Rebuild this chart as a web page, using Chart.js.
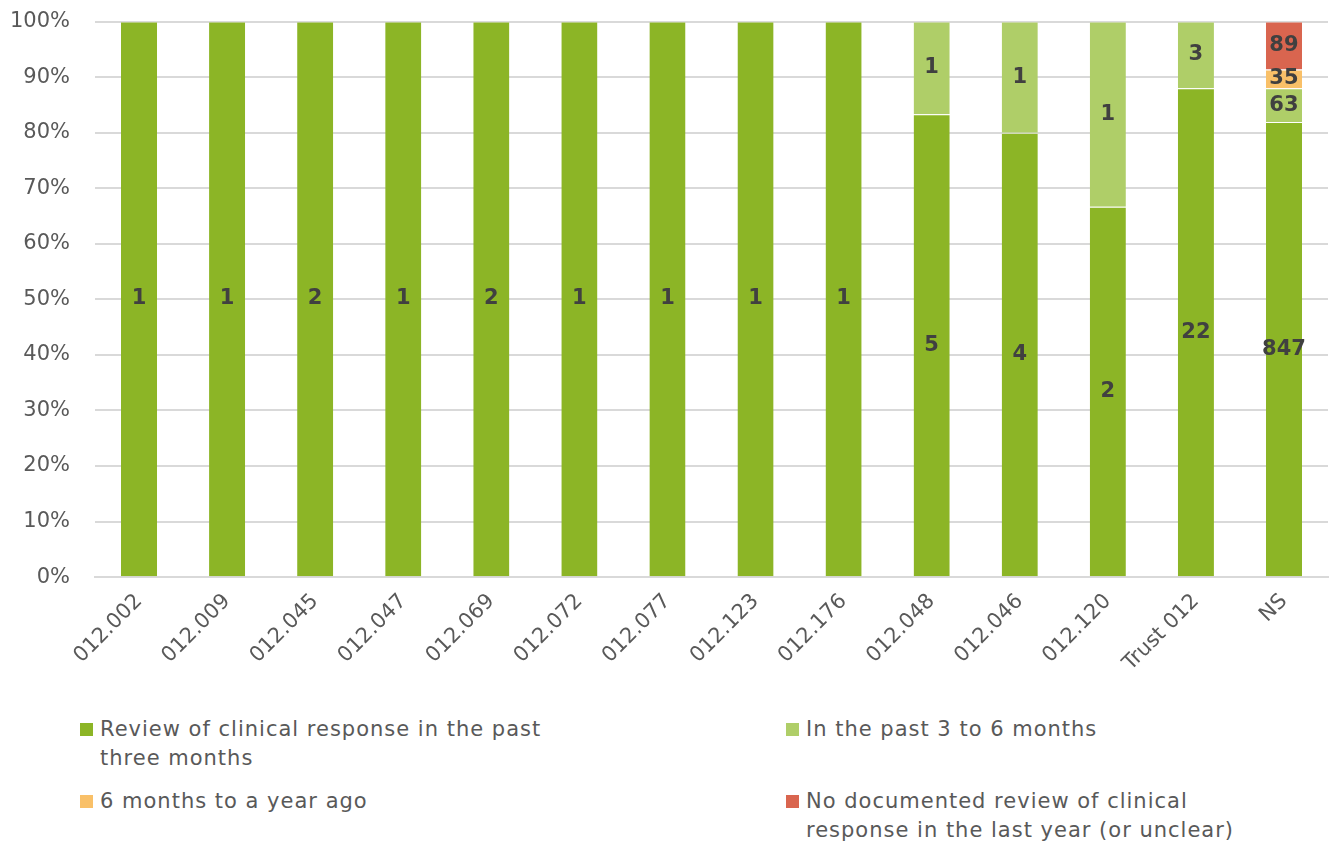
<!DOCTYPE html>
<html>
<head>
<meta charset="utf-8">
<script src="https://cdn.jsdelivr.net/npm/chart.js@4/dist/chart.umd.min.js"></script>
<style>
  html, body { margin: 0; padding: 0; background: #fff; }
  body { position: relative; width: 1335px; height: 847px; overflow: hidden; font-family: 'DejaVu Sans', sans-serif; }
  #wrap { position: absolute; left: 0; top: -16px; width: 1335px; height: 696px; }
  #legend { position: absolute; left: 0; top: 700px; width: 1335px; height: 147px; color: #595959; font-size: 21px; letter-spacing: 1px; }
  .item { position: absolute; line-height: 29px; padding-left: 20px; }
  .box { position: absolute; left: 0; top: 8px; width: 13px; height: 13px; }
</style>
</head>
<body>
<div id="wrap"><canvas id="chart"></canvas></div>
<div id="legend"></div>
<script>
// categories and counts per response group
const categories = ['012.002', '012.009', '012.045', '012.047', '012.069', '012.072', '012.077',
  '012.123', '012.176', '012.048', '012.046', '012.120', 'Trust 012', 'NS'];
const pastThreeMonths = [1, 1, 2, 1, 2, 1, 1, 1, 1, 5, 4, 2, 22, 847];
const threeToSixMonths = [0, 0, 0, 0, 0, 0, 0, 0, 0, 1, 1, 1, 3, 63];
const sixMonthsToYear = [0, 0, 0, 0, 0, 0, 0, 0, 0, 0, 0, 0, 0, 35];
const noReview = [0, 0, 0, 0, 0, 0, 0, 0, 0, 0, 0, 0, 0, 89];
const yTicks = [0, 10, 20, 30, 40, 50, 60, 70, 80, 90, 100];

const seriesNames = ['Review of clinical response in the past three months', 'In the past 3 to 6 months',
  '6 months to a year ago', 'No documented review of clinical response in the last year (or unclear)'];
const seriesCounts = [pastThreeMonths, threeToSixMonths, sixMonthsToYear, noReview];
const seriesColors = ['#8cb526', '#afce68', '#f9c068', '#d9654f'];

const totals = categories.map((c, i) => seriesCounts.reduce((s, arr) => s + arr[i], 0));

const datasets = seriesCounts.map((counts, k) => ({
  label: seriesNames[k],
  counts: counts,
  data: counts.map((v, i) => (v / totals[i]) * 100),
  backgroundColor: seriesColors[k],
  borderColor: 'rgba(255,255,255,0.5)',
  borderWidth: { top: 1, bottom: 0, left: 0, right: 0 },
  barPercentage: 1,
  categoryPercentage: 0.41,
}));

const FONT = '"DejaVu Sans", sans-serif';

// draws count labels in the middle of each segment
const countLabels = {
  id: 'countLabels',
  afterDatasetsDraw(chart) {
    const ctx = chart.ctx;
    ctx.save();
    ctx.font = 'bold 21px ' + FONT;
    ctx.fillStyle = '#404040';
    ctx.textAlign = 'center';
    ctx.textBaseline = 'middle';
    chart.data.datasets.forEach((ds, k) => {
      chart.getDatasetMeta(k).data.forEach((bar, i) => {
        const v = ds.counts[i];
        if (!v) return;
        ctx.fillText(String(v), bar.x, (bar.y + bar.base) / 2);
      });
    });
    ctx.restore();
  },
};

const chart = new Chart(document.getElementById('chart'), {
  type: 'bar',
  data: { labels: categories, datasets: datasets },
  options: {
    responsive: true,
    maintainAspectRatio: false,
    animation: false,
    layout: { padding: { top: -14, right: 7, left: 0, bottom: 0 } },
    plugins: {
      legend: { display: false },
      tooltip: { enabled: false },
    },
    scales: {
      x: {
        stacked: true,
        grid: { display: false },
        border: { color: '#d9d9d9', width: 2 },
        ticks: {
          color: '#595959',
          font: { size: 21, family: FONT },
          minRotation: 45,
          maxRotation: 45,
          padding: 4,
        },
      },
      y: {
        stacked: true,
        min: 0,
        max: 100,
        afterBuildTicks: (axis) => { axis.ticks = yTicks.map(v => ({ value: v })); },
        afterFit: (axis) => { axis.width = 95; },
        grid: { color: '#d9d9d9', lineWidth: 2, drawTicks: false },
        border: { display: false },
        ticks: {
          color: '#595959',
          font: { size: 21, family: FONT },
          padding: 25,
          callback: (v) => v + '%',
        },
      },
    },
  },
  plugins: [countLabels],
});

// HTML legend in two columns so long names can wrap
const legendPos = [[80, 15, 460], [786, 15, 440], [80, 87, 440], [786, 87, 440]];
const legend = document.getElementById('legend');
chart.data.datasets.forEach((ds, k) => {
  const item = document.createElement('div');
  item.className = 'item';
  item.style.left = legendPos[k][0] + 'px';
  item.style.top = legendPos[k][1] + 'px';
  item.style.width = legendPos[k][2] + 'px';
  const box = document.createElement('span');
  box.className = 'box';
  box.style.background = ds.backgroundColor;
  item.appendChild(box);
  item.appendChild(document.createTextNode(ds.label));
  legend.appendChild(item);
});
</script>
</body>
</html>
